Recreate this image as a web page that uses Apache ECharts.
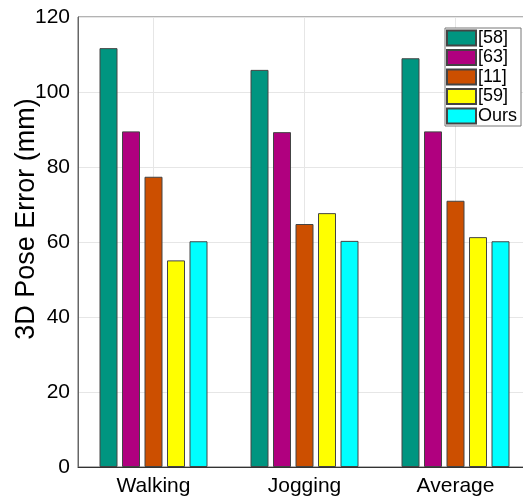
<!DOCTYPE html>
<html>
<head>
<meta charset="utf-8">
<script src="https://cdn.jsdelivr.net/npm/echarts@6/dist/echarts.min.js"></script>
<style>html,body{margin:0;padding:0;background:#fff;overflow:hidden}#c{width:540px;height:499px}</style>
</head>
<body>
<div id="c"></div>
<script>
var categories = ['Walking', 'Jogging', 'Average'];
var seriesNames = ['[58]', '[63]', '[11]', '[59]', 'Ours'];
var s58 = [111.7, 105.9, 109.0];
var s63 = [89.5, 89.3, 89.5];
var s11 = [77.4, 64.8, 71.0];
var s59 = [55.1, 67.7, 61.3];
var sOurs = [60.2, 60.3, 60.2];
var yTicks = [0, 20, 40, 60, 80, 100, 120];
var colors = ['#009580', '#b0007f', '#cc4f00', '#ffff00', '#00ffff'];

var allValues = [s58, s63, s11, s59, sOurs];
var FONT = 'Liberation Sans, Arial, Helvetica, sans-serif';

var chart = echarts.init(document.getElementById('c'), null, {renderer: 'canvas'});
chart.setOption({
  animation: false,
  backgroundColor: '#ffffff',
  grid: {left: 78, right: 9, top: 17, bottom: 32, outerBoundsMode: 'none', containLabel: false,
         show: true, borderColor: '#666', borderWidth: 1, backgroundColor: '#ffffff'},
  legend: {
    data: seriesNames,
    orient: 'vertical',
    left: 445, top: 28,
    icon: 'rect',
    itemWidth: 29, itemHeight: 15, itemGap: 1.5,
    padding: [1, 4, 1, 1],
    backgroundColor: '#ffffff',
    borderColor: '#777', borderWidth: 1,
    textStyle: {fontFamily: FONT, fontSize: 18, color: '#000', padding: [0, 0, 0, -3]}
  },
  xAxis: {
    type: 'category',
    data: categories,
    axisLine: {lineStyle: {color: '#333'}},
    axisTick: {show: false},
    axisLabel: {fontFamily: FONT, fontSize: 21, color: '#000', margin: 9},
    splitLine: {show: true, alignWithLabel: true, lineStyle: {color: '#e6e6e6'}}
  },
  yAxis: {
    type: 'value',
    min: yTicks[0], max: yTicks[yTicks.length - 1], interval: 20,
    name: '3D Pose Error (mm)',
    nameLocation: 'middle', nameGap: 38, nameRotate: 90, nameMoveOverlap: false,
    nameTextStyle: {fontFamily: FONT, fontSize: 27, color: '#000', padding: [0, 0, 0, 46]},
    axisLine: {show: true, lineStyle: {color: '#666'}},
    axisTick: {show: false},
    axisLabel: {fontFamily: FONT, fontSize: 21, color: '#000', margin: 8},
    splitLine: {show: true, lineStyle: {color: '#e6e6e6'}}
  },
  series: seriesNames.map(function (n, i) {
    return {
      name: n, type: 'bar', data: allValues[i],
      barWidth: 18, barGap: '25%',
      itemStyle: {color: colors[i], borderColor: '#444', borderWidth: 1}
    };
  })
});
</script>
</body>
</html>
